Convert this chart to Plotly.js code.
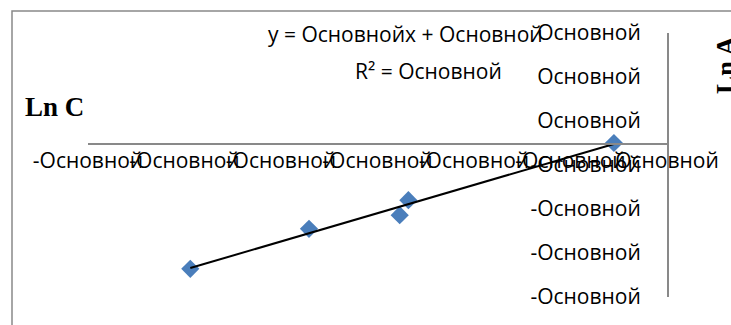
<!DOCTYPE html>
<html><head><meta charset="utf-8">
<script src="https://cdn.plot.ly/plotly-3.0.1.min.js"></script>
<style>html,body{margin:0;padding:0;background:#fff;overflow:hidden}</style>
</head><body><div id="chart" style="width:731px;height:325px"></div>
<script>
// Data
const lnC = [-4.94, -3.71, -2.77, -2.68, -0.55];
const lnA = [-2.86, -1.95, -1.64, -1.30, 0.00];
const xTickVals = [-6, -5, -4, -3, -2, -1, 0];
const xTickText = ["-Основной", "-Основной", "-Основной", "-Основной", "-Основной", "-Основной", "Основной"];
const yTickVals = [2.5, 1.5, 0.5, -0.5, -1.5, -2.5, -3.5];
const yTickText = ["Основной", "Основной", "Основной", "-Основной", "-Основной", "-Основной", "-Основной"];
const equationText = "y = Основнойx + Основной";
const r2Text = "R² = Основной";
const xTitle = "Ln C";
const yTitle = "Ln A";

// Linear trendline (least squares), as the spreadsheet computes it
const n = lnC.length;
const mx = lnC.reduce((a, b) => a + b, 0) / n;
const my = lnA.reduce((a, b) => a + b, 0) / n;
let sxy = 0, sxx = 0;
for (let i = 0; i < n; i++) { sxy += (lnC[i] - mx) * (lnA[i] - my); sxx += (lnC[i] - mx) ** 2; }
const slope = sxy / sxx, icpt = my - slope * mx;
const tx = [Math.min(...lnC), Math.max(...lnC)];
const ty = tx.map(v => slope * v + icpt);

const W = 731, H = 325, L = 88, R = 64, T = 33, B = 28;
const pw = W - L - R, ph = H - T - B;
const px = x => (x - L) / pw;
const py = y => (H - B - y) / ph;

const font = "Open Sans, sans-serif";
const serif = "Liberation Serif, Times New Roman, serif";

Plotly.newPlot("chart", [
  { x: lnC, y: lnA, type: "scatter", mode: "markers",
    marker: { symbol: "diamond", size: 14, color: "#4A7EBB", line: { width: 0 } },
    hoverinfo: "skip", showlegend: false },
  { x: tx, y: ty, type: "scatter", mode: "lines",
    line: { color: "#000000", width: 2 }, hoverinfo: "skip", showlegend: false }
], {
  width: W, height: H,
  margin: { l: L, r: R, t: T, b: B, pad: 0 },
  paper_bgcolor: "#ffffff", plot_bgcolor: "rgba(0,0,0,0)",
  showlegend: false,
  xaxis: {
    range: [-6, 0], anchor: "free", position: py(143),
    showline: true, linecolor: "#898989", linewidth: 1.5,
    showgrid: false, zeroline: false, ticks: "", tickangle: 0,
    ticklabelstandoff: -2,
    tickmode: "array", tickvals: xTickVals, ticktext: xTickText,
    tickfont: { family: font, size: 21, color: "#000" }
  },
  yaxis: {
    range: [-3.5, 2.5], anchor: "free", position: 1, side: "left",
    showline: true, linecolor: "#898989", linewidth: 1.5,
    showgrid: false, zeroline: false, ticks: "",
    ticklabelstandoff: 22,
    tickmode: "array", tickvals: yTickVals, ticktext: yTickText,
    tickfont: { family: font, size: 21, color: "#000" }
  },
  shapes: [
    { type: "rect", xref: "paper", yref: "paper",
      x0: px(12), x1: px(W + 50), y0: py(H + 50), y1: py(11),
      line: { color: "#898989", width: 1.5 }, fillcolor: "rgba(0,0,0,0)", layer: "below" }
  ],
  annotations: [
    { xref: "paper", yref: "paper", x: px(405), y: py(34), text: equationText, showarrow: false,
      xanchor: "center", yanchor: "middle", font: { family: font, size: 21, color: "#000" } },
    { xref: "paper", yref: "paper", x: px(428), y: py(71), text: r2Text, showarrow: false,
      xanchor: "center", yanchor: "middle", font: { family: font, size: 21, color: "#000" } },
    { xref: "paper", yref: "paper", x: px(54), y: py(107), text: "<b>" + xTitle + "</b>", showarrow: false,
      xanchor: "center", yanchor: "middle", font: { family: serif, size: 27, color: "#000" } },
    { xref: "paper", yref: "paper", x: px(726), y: py(65), text: "<b>" + yTitle + "</b>", showarrow: false,
      textangle: -90, xanchor: "center", yanchor: "middle", font: { family: serif, size: 27, color: "#000" } }
  ]
}, { displayModeBar: false, staticPlot: true });
</script></body></html>
